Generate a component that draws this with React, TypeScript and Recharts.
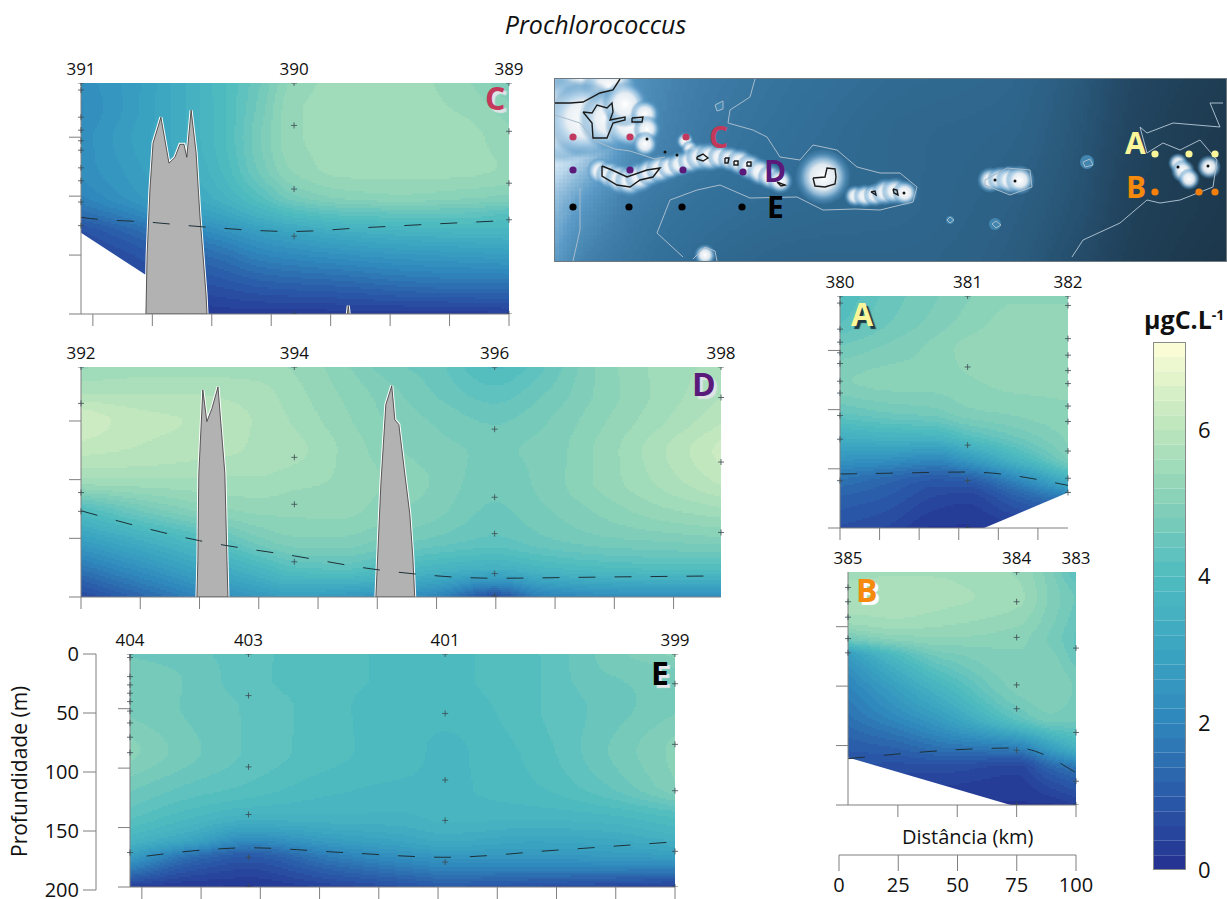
import React from 'react'
import { ComposedChart, Area, Bar, Line, Scatter, XAxis, YAxis } from 'recharts'

const FONT = '"Open Sans", sans-serif'
const AXIS = '#7f7f7f'
const TOP_DEPTH = 4
const BOTTOM_DEPTH = 200

// colour bar, 0.2 units a band
const barStops: [number, string][] = [
    [0, '#24308f'],
    [1, '#2a5aa8'],
    [2, '#2f86bb'],
    [3, '#3ba5c2'],
    [4, '#4fbcc0'],
    [5, '#85d0b8'],
    [6, '#bbe5bc'],
    [7.2, '#fffed6'],
]
const barBands = Array.from({ length: 36 }, (_, i) => 'b' + i)
const barTicks = [0, 2, 4, 6]
const outerDepthTicks = [0, 50, 100, 150, 200]
const outerDistTicks = [0, 25, 50, 75, 100]
const depthTicks = [50, 100, 150, 200]

// section C
const cDist = [0, 20, 40, 60, 75, 90, 110, 135, 160, 180]
const cDepth = [4, 25, 50, 75, 100, 115, 130, 150, 175, 200]
const cValues = [
    [2.2, 2.6, 3.2, 3.9, 4.5, 5.2, 5.4, 5.4, 5.2, 4.7],
    [2.1, 2.6, 3.2, 3.9, 4.6, 5.3, 5.4, 5.4, 5.3, 5.0],
    [2.2, 2.7, 3.2, 3.9, 4.7, 5.3, 5.4, 5.4, 5.4, 5.2],
    [2.2, 2.6, 3.1, 3.8, 4.6, 5.2, 5.4, 5.4, 5.4, 5.3],
    [1.9, 2.4, 2.9, 3.5, 4.1, 4.7, 5.0, 5.1, 5.0, 4.9],
    [1.4, 1.9, 2.5, 3.0, 3.5, 3.9, 4.2, 4.3, 4.3, 4.1],
    [0.7, 1.2, 1.8, 2.3, 2.7, 3.0, 3.3, 3.5, 3.6, 3.6],
    [0.4, 0.7, 1.1, 1.5, 1.9, 2.1, 2.3, 2.5, 2.6, 2.7],
    [0.2, 0.4, 0.6, 0.8, 1.0, 1.1, 1.2, 1.4, 1.5, 1.5],
    [0.1, 0.1, 0.1, 0.2, 0.2, 0.2, 0.2, 0.2, 0.2, 0.3],
]
const cTicks = [5, 30, 55, 80, 105, 130, 155, 180]
const cStationDist = [0, 89.6, 180]
const cStationNames = ['391', '390', '389']
const cSamples = [
    [4, 10, 33, 44, 53, 61, 76, 87, 105, 125],
    [4, 40, 94, 134, 200],
    [4, 45, 89, 120, 200],
]
const cMld = [[0, 118], [4, 119], [28, 122], [51, 126], [89, 130], [117, 127], [145, 124], [180, 120.6]]
const cBottom = [[0, 131], [27.3, 167]]
const cRidges = [
    [[27.3, 200], [27.8, 150], [29, 94], [30.3, 55], [33.6, 33], [37, 72], [39.5, 67], [41.6, 56], [43.3, 56], [44.5, 67], [46.3, 27], [48.4, 63], [50, 116], [51.3, 150], [52.6, 184], [53, 200]],
    [[112, 200], [112.4, 193], [112.8, 200]],
]

// section D
const dDist = [0, 25, 50, 75, 90, 110, 130, 150, 174.5, 195, 220, 245, 270]
const dDepth = [4, 25, 50, 75, 100, 125, 150, 175, 200]
const dValues = [
    [5.3, 5.4, 5.4, 5.4, 5.3, 5.0, 4.6, 4.4, 3.9, 4.3, 5.0, 5.4, 5.6],
    [5.7, 5.7, 5.7, 5.6, 5.4, 5.1, 4.8, 4.5, 4.2, 4.5, 5.0, 5.4, 5.7],
    [6.3, 6.0, 5.9, 5.7, 5.5, 5.2, 4.9, 4.7, 4.5, 4.7, 5.1, 5.5, 5.9],
    [6.0, 5.9, 5.8, 5.7, 5.6, 5.3, 5.0, 4.8, 4.7, 4.8, 5.2, 5.7, 6.2],
    [5.5, 5.5, 5.5, 5.5, 5.4, 5.3, 5.1, 4.9, 4.6, 4.8, 5.2, 5.6, 6.0],
    [4.0, 4.6, 5.0, 5.2, 5.2, 5.2, 5.0, 4.8, 4.5, 4.7, 5.0, 5.3, 5.5],
    [2.8, 3.4, 4.0, 4.7, 4.9, 4.9, 4.7, 4.5, 4.3, 4.5, 4.7, 4.8, 4.9],
    [1.6, 2.3, 3.0, 3.7, 4.1, 4.2, 3.9, 3.6, 3.4, 3.7, 3.9, 4.0, 4.0],
    [0.5, 1.2, 1.9, 2.5, 2.7, 2.5, 2.3, 1.9, 0.7, 1.8, 2.1, 2.2, 2.2],
]
const dTicks = [0, 25, 50, 75, 100, 125, 150, 175, 200, 225, 250]
const dStationDist = [0, 90, 174.5, 270]
const dStationNames = ['392', '394', '396', '398']
const dSamples = [
    [4, 35, 111, 127],
    [4, 81, 121, 170],
    [4, 57, 115, 146, 180, 199],
    [4, 30, 85, 145],
]
const dMld = [[0, 126.5], [50, 152], [90, 165], [126, 177], [174.5, 184], [220, 183], [270, 182]]
const dRidges = [
    [[48.9, 200], [49.3, 169], [49.7, 95], [51.4, 23.5], [53.1, 50.5], [55.2, 39.5], [57.8, 21], [60.7, 95], [61.6, 169], [62, 200]],
    [[124.4, 200], [126.5, 104], [128.6, 36], [131.1, 20], [132.4, 49], [134.1, 53], [136.6, 95], [138.7, 129], [140, 166], [140.8, 200]],
]

// section E
const eDist = [0, 25, 50, 85, 115, 133, 170, 200, 230]
const eDepth = [4, 25, 50, 85, 115, 140, 160, 175, 200]
const eValues = [
    [4.5, 4.4, 4.2, 4.0, 3.9, 3.9, 4.1, 4.6, 5.0],
    [4.7, 4.5, 4.2, 4.0, 3.9, 3.9, 4.1, 4.5, 4.6],
    [4.7, 4.5, 4.3, 4.0, 3.8, 3.8, 4.1, 4.4, 4.7],
    [5.0, 4.6, 4.3, 4.0, 3.8, 3.7, 4.0, 4.5, 5.0],
    [4.6, 4.3, 4.1, 3.8, 3.7, 3.7, 3.9, 4.3, 4.9],
    [4.2, 3.8, 3.5, 3.5, 3.5, 3.6, 3.6, 3.7, 4.0],
    [3.6, 3.0, 2.2, 2.7, 3.0, 3.2, 3.0, 3.1, 3.4],
    [2.6, 1.4, 0.9, 1.7, 2.2, 2.4, 2.4, 2.5, 2.6],
    [0.3, 0.1, 0.1, 0.4, 0.7, 0.9, 0.7, 0.5, 0.3],
]
const eTicks = [5, 30, 55, 80, 105, 130, 155, 180, 205, 230]
const eStationDist = [0, 50, 133, 230]
const eStationNames = ['404', '403', '401', '399']
const eSamples = [
    [4, 7, 23, 30, 37, 44, 52, 62, 74, 87, 171],
    [4, 39, 99, 139, 175, 200],
    [4, 54, 110, 144, 179],
    [4, 29, 80, 119, 170, 200],
]
const eMld = [[7, 174], [30, 169], [50, 167], [90, 171], [133, 175], [180, 169], [230, 162]]

// section A
const aDist = [0, 30, 60, 80, 110, 144]
const aDepth = [4, 25, 50, 75, 100, 120, 140, 160, 175, 200]
const aValues = [
    [3.9, 4.4, 4.7, 4.9, 5.1, 5.1],
    [4.1, 4.5, 4.8, 5.0, 5.2, 5.2],
    [4.6, 4.8, 5.0, 5.2, 5.3, 5.3],
    [4.9, 5.0, 5.0, 5.1, 5.2, 5.2],
    [4.4, 4.6, 4.7, 4.9, 5.0, 5.1],
    [3.5, 3.7, 3.8, 4.2, 4.6, 5.0],
    [2.5, 2.4, 2.2, 2.7, 3.7, 4.8],
    [1.5, 1.2, 0.9, 1.0, 1.9, 3.3],
    [1.1, 0.9, 0.5, 0.4, 1.0, 1.7],
    [0.7, 0.5, 0.1, 0.1, 0.2, 0.3],
]
const aTicks = [0, 25, 50, 75, 100, 125]
const aStationDist = [0, 80.6, 144]
const aStationNames = ['380', '381', '382']
const aSamples = [
    [4, 10, 32, 43, 52, 61, 76, 86, 105, 125, 160],
    [4, 64, 130, 160, 200],
    [4, 12, 40, 54, 67, 78, 97, 110, 135, 158, 170],
]
const aMld = [[0, 154.4], [40, 153.5], [80.6, 152.7], [144, 164]]
const aBottom = [[91, 200], [144, 170]]

// section B
const bDist = [0, 20, 40, 71, 85, 96]
const bDepth = [4, 25, 45, 60, 75, 100, 125, 150, 170, 200]
const bValues = [
    [5.4, 5.5, 5.5, 5.3, 4.8, 4.1],
    [5.7, 5.7, 5.6, 5.4, 4.9, 4.5],
    [5.4, 5.5, 5.4, 5.2, 4.8, 4.4],
    [4.6, 5.0, 5.1, 5.0, 4.7, 4.3],
    [2.6, 3.8, 4.6, 4.9, 4.8, 4.4],
    [1.9, 2.8, 3.7, 4.8, 4.9, 4.7],
    [1.5, 2.1, 2.8, 4.3, 4.7, 4.6],
    [1.0, 1.2, 1.6, 2.0, 2.9, 3.6],
    [0.7, 0.6, 0.6, 0.4, 1.1, 1.5],
    [0.4, 0.2, 0.1, 0.1, 0.1, 0.3],
]
const bTicks = [21, 46, 71, 96]
const bStationDist = [0, 71, 96]
const bStationNames = ['385', '384', '383']
const bSamples = [
    [17, 29, 42, 60, 72],
    [4, 29, 59, 99, 119, 154, 200],
    [68, 139, 180, 200],
]
const bMld = [[0, 161], [71, 152], [96, 173]]
const bBottom = [[0, 160], [68.5, 200]]

// map
const mapStops: [number, string][] = [
    [0, '#1b3346'],
    [1, '#26506f'],
    [2, '#33719b'],
    [3, '#5b9ac6'],
    [4, '#bcd8ec'],
    [5, '#ffffff'],
]
const mapX = [0, 30, 80, 150, 250, 350, 450, 520, 580, 671]
const mapY = [0, 60, 120, 182]
const mapValues = [
    [4.6, 4.2, 2.8, 2.3, 2.0, 1.8, 1.7, 1.3, 0.7, 0.3],
    [4.6, 4.0, 2.7, 2.2, 1.9, 1.7, 1.6, 1.2, 0.6, 0.2],
    [3.6, 3.0, 2.3, 2.0, 1.8, 1.7, 1.5, 1.1, 0.5, 0.2],
    [3.0, 2.4, 2.1, 1.8, 1.6, 1.6, 1.4, 0.9, 0.4, 0.1],
]
const shoals = [
    [10, 5, 45], [35, 5, 40], [55, 10, 30], [5, 40, 45], [30, 40, 40], [55, 40, 32], [75, 45, 26], [70, 25, 24],
    [90, 35, 15], [92, 50, 14], [90, 65, 13], [130, 62, 9], [135, 70, 9],
    [45, 92, 14], [55, 96, 15], [65, 100, 16], [75, 102, 16], [85, 98, 16], [95, 93, 15], [105, 90, 15],
    [115, 88, 13], [125, 85, 13], [135, 82, 13], [145, 78, 15], [155, 78, 15], [165, 78, 13], [175, 80, 13],
    [185, 83, 14], [195, 88, 14], [205, 93, 14], [215, 98, 13], [225, 102, 13],
    [268, 98, 28],
    [300, 117, 11], [310, 117, 12], [320, 116, 12], [330, 113, 14], [340, 112, 14], [350, 114, 13],
    [435, 101, 13], [445, 100, 13], [455, 101, 15], [465, 101, 15],
    [623, 84, 10], [628, 92, 12], [634, 100, 11], [654, 88, 12], [150, 176, 11],
]
const pools = [[532, 83, 7], [440, 145, 6], [395, 141, 4], [164, 27, 4]]
const islands = [
    [[28, 33], [37, 34], [42, 26], [52, 29], [57, 24], [58, 33], [55, 41], [70, 38], [70, 41], [58, 44], [52, 59], [38, 59], [37, 44], [28, 33]],
    [[77, 39], [88, 38], [87, 43], [77, 43], [77, 39]],
    [[0, 24], [15, 24], [28, 23], [45, 14], [58, 11], [65, 0]],
    [[47, 87], [57, 91], [72, 98], [92, 91], [105, 89], [98, 98], [85, 101], [75, 108], [62, 106], [47, 97], [47, 87]],
    [[142, 78], [148, 75], [153, 79], [148, 82], [142, 80], [142, 78]],
    [[170, 79], [174, 79], [173, 84], [170, 84], [170, 79]],
    [[179, 82], [183, 82], [183, 86], [179, 86], [179, 82]],
    [[192, 83], [196, 83], [196, 87], [192, 87], [192, 83]],
    [[222, 103], [230, 106], [226, 107], [222, 103]],
    [[258, 99], [270, 98], [272, 89], [280, 90], [281, 98], [280, 105], [270, 108], [260, 107], [258, 99]],
    [[316, 113], [320, 112], [321, 116], [316, 113]],
    [[338, 110], [342, 111], [343, 116], [339, 114], [338, 110]],
]
const isobaths = [
    [[200, 0], [195, 18], [175, 31], [173, 44], [198, 51], [212, 58], [225, 78], [245, 81], [258, 66], [282, 71], [302, 88], [325, 94], [345, 94], [362, 108], [358, 123], [325, 131], [300, 130], [268, 131], [242, 118], [195, 119], [165, 106], [142, 111], [115, 121], [102, 154], [128, 178]],
    [[25, 109], [25, 151], [18, 182]],
    [[430, 101], [452, 89], [475, 91], [477, 108], [455, 116], [430, 106], [430, 101]],
    [[517, 178], [528, 161], [565, 144], [592, 121], [605, 124], [625, 121], [658, 108], [662, 81], [645, 61], [625, 71], [608, 64], [592, 74], [585, 48], [592, 54], [618, 44], [665, 48], [655, 24], [668, 24]],
    [[528, 83], [535, 80], [538, 86], [530, 88], [528, 83]],
    [[437, 145], [441, 142], [446, 146], [441, 149], [437, 145]],
    [[392, 141], [395, 138], [399, 141], [395, 144], [392, 141]],
    [[160, 26], [168, 22], [168, 30], [162, 32], [160, 26]],
    [[0, 36], [25, 44], [40, 62], [60, 70], [75, 72], [100, 80], [110, 78]],
    [[138, 180], [150, 168], [160, 172], [162, 182]],
]
const islandDots = [[349, 114], [440, 101], [460, 102], [623, 88], [653, 87], [110, 73], [122, 76], [92, 60]]
const stationsC = [[18, 58], [75, 58], [131, 58]]
const stationsD = [[18, 91], [75, 91], [128, 91], [188, 93]]
const stationsE = [[18, 128], [74, 128], [127, 128], [187, 128]]
const stationsA = [[600, 75], [634, 75], [660, 75]]
const stationsB = [[600, 113], [644, 113], [660, 113]]

const toPoints = (rows: number[][]) => rows.map(([x, y]) => ({ x, y }))

function rampColor(stops: [number, string][], v: number) {
    let i = 0
    while (i < stops.length - 2 && v > stops[i + 1][0]) i++
    const [v0, c0] = stops[i]
    const [v1, c1] = stops[i + 1]
    const t = Math.max(0, Math.min(1, (v - v0) / (v1 - v0)))
    const ch = (c: string, k: number) => parseInt(c.slice(1 + k * 2, 3 + k * 2), 16)
    const mix = [0, 1, 2].map((k) => Math.round(ch(c0, k) + (ch(c1, k) - ch(c0, k)) * t))
    return `rgb(${mix.join(',')})`
}

// the small offset keeps values read as whole band edges from flickering between bands
const bandColor = (v: number) => {
    const i = Math.max(0, Math.min(35, Math.floor((v + 0.07) / 0.2)))
    return rampColor(barStops, (i + 0.5) * 0.2)
}
const mapColor = (v: number) => rampColor(mapStops, Math.round(v * 20) / 20)

// smooth read-across between neighbouring read values when painting a cell
function smooth(xs: number[], ys: number[], x: number) {
    const n = xs.length
    let i = 0
    while (i < n - 2 && x > xs[i + 1]) i++
    const h = xs[i + 1] - xs[i]
    const t = (x - xs[i]) / h
    const d = (k: number) => (ys[k + 1] - ys[k]) / (xs[k + 1] - xs[k])
    const m = (k: number) => {
        if (k === 0) return d(0)
        if (k === n - 1) return d(n - 2)
        const a = d(k - 1)
        const b = d(k)
        return a * b <= 0 ? 0 : (2 * a * b) / (a + b)
    }
    const t2 = t * t
    const t3 = t2 * t
    return (2 * t3 - 3 * t2 + 1) * ys[i] + (t3 - 2 * t2 + t) * h * m(i) + (-2 * t3 + 3 * t2) * ys[i + 1] + (t3 - t2) * h * m(i + 1)
}

function fieldShape(xs: number[], ys: number[], values: number[][], pxX: number, pxY: number, color: (v: number) => string, step: number) {
    return (props: any) => {
        const { cx, cy, payload } = props
        const { col, row } = payload
        if (col >= xs.length - 1 || row >= ys.length - 1) return <g />
        const x0 = Math.round(cx)
        const y0 = Math.round(cy)
        const x1 = Math.round(cx + (xs[col + 1] - xs[col]) * pxX)
        const y1 = Math.round(cy + (ys[row + 1] - ys[row]) * pxY)
        const paths: Record<string, string> = {}
        for (let py = y0; py < y1; py += step) {
            const yv = ys[row] + (py + step / 2 - cy) / pxY
            const across = xs.map((_, c) => smooth(ys, values.map((r) => r[c]), yv))
            for (let px = x0; px < x1; px += step) {
                const xv = xs[col] + (px + step / 2 - cx) / pxX
                const fill = color(smooth(xs, across, xv))
                const w = Math.min(step, x1 - px)
                const h = Math.min(step, y1 - py)
                paths[fill] = (paths[fill] || '') + `M${px} ${py}h${w}v${h}h${-w}z`
            }
        }
        return (
            <g>
                {Object.keys(paths).map((fill) => (
                    <path key={fill} d={paths[fill]} fill={fill} shapeRendering='crispEdges' />
                ))}
            </g>
        )
    }
}

function fieldPoints(xs: number[], ys: number[]) {
    return ys.flatMap((y, row) => xs.map((x, col) => ({ x, y, col, row })))
}

const Cross = (props: any) => {
    const { cx, cy } = props
    return <path d={`M${cx - 3} ${cy}h6M${cx} ${cy - 3}v6`} stroke='#3c4a50' strokeWidth={0.8} fill='none' />
}

const MapDot = (color: string) => (props: any) => <circle cx={props.cx} cy={props.cy} r={3.6} fill={color} />

const TinyDot = (props: any) => <circle cx={props.cx} cy={props.cy} r={1.5} fill='#111' />

const ShoalBlob = (props: any) => (
    <circle cx={props.cx} cy={props.cy} r={props.payload.z} fill='url(#shoal)' />
)

const PoolBlob = (props: any) => (
    <circle cx={props.cx} cy={props.cy} r={props.payload.z} fill='#4286b0' />
)

type PanelProps = {
    left: number
    top: number
    width: number
    height: number
    dist: number[]
    depth: number[]
    values: number[][]
    span: number
    ticks: number[]
    stationDist: number[]
    stationNames: string[]
    samples: number[][]
    mld: number[][]
    bottom?: number[][]
    ridges?: number[][][]
}

function Section({ left, top, width, height, dist, depth, values, span, ticks, stationDist, stationNames, samples, mld, bottom, ridges }: PanelProps) {
    const pxX = width / span
    const pxY = height / (BOTTOM_DEPTH - TOP_DEPTH)
    const names: Record<number, string> = {}
    stationDist.forEach((d, i) => (names[d] = stationNames[i]))
    const crosses = stationDist.flatMap((x, i) => samples[i].map((y) => ({ x, y })))
    const ridgeList = ridges || []
    // one table for the chart: every line or area owns its own key, the rest of its rows stay empty
    const rows: any[] = [
        ...mld.map(([x, y]) => ({ x, mld: y })),
        ...(bottom || []).map(([x, y]) => ({ x, floor: [y, BOTTOM_DEPTH] })),
        ...ridgeList.flatMap((ridge, i) => ridge.map(([x, y]) => ({ x, ['ridge' + i]: [y, BOTTOM_DEPTH] }))),
    ]
    return (
        <div style={{ position: 'absolute', left: left - 30, top: top - 30 }}>
            <ComposedChart data={rows} width={width + 60} height={height + 50} margin={{ top: 0, right: 30, bottom: 0, left: 0 }}>
                <XAxis
                    xAxisId='top'
                    orientation='top'
                    dataKey='x'
                    type='number'
                    domain={[0, span]}
                    ticks={stationDist}
                    interval={0}
                    height={30}
                    axisLine={false}
                    tickLine={false}
                    tickMargin={2}
                    tick={{ fontSize: 17, fontFamily: FONT, fill: '#111' }}
                    tickFormatter={(v) => names[v]}
                />
                <XAxis
                    dataKey='x'
                    type='number'
                    domain={[0, span]}
                    ticks={ticks}
                    interval={0}
                    height={20}
                    stroke={AXIS}
                    tickSize={12}
                    tickFormatter={() => ''}
                />
                <YAxis
                    dataKey='y'
                    type='number'
                    reversed
                    allowDataOverflow
                    domain={[TOP_DEPTH, BOTTOM_DEPTH]}
                    ticks={depthTicks}
                    interval={0}
                    width={30}
                    stroke={AXIS}
                    tickSize={12}
                    tickFormatter={() => ''}
                />
                <Scatter
                    data={fieldPoints(dist, depth)}
                    shape={fieldShape(dist, depth, values, pxX, pxY, bandColor, 2)}
                    isAnimationActive={false}
                    zIndex={50}
                />
                {bottom && (
                    <Area
                        dataKey='floor'
                        type='linear'
                        connectNulls
                        fill='#ffffff'
                        fillOpacity={1}
                        stroke='none'
                        dot={false}
                        activeDot={false}
                        isAnimationActive={false}
                    />
                )}
                {ridgeList.map((_, i) => (
                    <Area
                        key={'halo' + i}
                        dataKey={'ridge' + i}
                        type='linear'
                        connectNulls
                        fill='none'
                        stroke='#ffffff'
                        strokeWidth={3}
                        dot={false}
                        activeDot={false}
                        isAnimationActive={false}
                    />
                ))}
                {ridgeList.map((_, i) => (
                    <Area
                        key={'ridge' + i}
                        dataKey={'ridge' + i}
                        type='linear'
                        connectNulls
                        fill='#b2b2b2'
                        fillOpacity={1}
                        stroke='#333'
                        strokeWidth={0.8}
                        dot={false}
                        activeDot={false}
                        isAnimationActive={false}
                    />
                ))}
                <Line
                    dataKey='mld'
                    type='monotone'
                    connectNulls
                    stroke='#1d3038'
                    strokeWidth={1}
                    strokeDasharray='17 19'
                    dot={false}
                    activeDot={false}
                    isAnimationActive={false}
                />
                <Scatter data={crosses} shape={Cross} isAnimationActive={false} />
            </ComposedChart>
        </div>
    )
}

function MapPanel() {
    const rows: any[] = [
        ...isobaths.flatMap((line, i) => line.map(([x, y]) => ({ x, ['iso' + i]: y }))),
        ...islands.flatMap((line, i) => line.map(([x, y]) => ({ x, ['isl' + i]: y }))),
    ]
    return (
        <div style={{ position: 'absolute', left: 555, top: 79, width: 671, height: 182, boxShadow: '0 0 0 1px #6f7a80' }}>
            <ComposedChart data={rows} width={671} height={182} margin={{ top: 0, right: 0, bottom: 0, left: 0 }}>
                <defs>
                    <radialGradient id='shoal'>
                        <stop offset='0%' stopColor='#ffffff' stopOpacity={1} />
                        <stop offset='45%' stopColor='#e9eff4' stopOpacity={0.95} />
                        <stop offset='65%' stopColor='#a6cbe6' stopOpacity={0.8} />
                        <stop offset='85%' stopColor='#5b9ac6' stopOpacity={0.45} />
                        <stop offset='100%' stopColor='#5b9ac6' stopOpacity={0} />
                    </radialGradient>
                </defs>
                <XAxis dataKey='x' type='number' domain={[0, 671]} hide />
                <YAxis dataKey='y' type='number' reversed domain={[0, 182]} hide />
                <Scatter
                    data={fieldPoints(mapX, mapY)}
                    shape={fieldShape(mapX, mapY, mapValues, 1, 1, mapColor, 4)}
                    isAnimationActive={false}
                    zIndex={50}
                />
                <Scatter
                    data={shoals.map(([x, y, z]) => ({ x, y, z }))}
                    shape={ShoalBlob}
                    isAnimationActive={false}
                    zIndex={60}
                />
                <Scatter
                    data={pools.map(([x, y, z]) => ({ x, y, z }))}
                    shape={PoolBlob}
                    isAnimationActive={false}
                    zIndex={60}
                />
                {isobaths.map((_, i) => (
                    <Line
                        key={'iso' + i}
                        dataKey={'iso' + i}
                        type='linear'
                        connectNulls
                        stroke='#a8bccb'
                        strokeWidth={1}
                        dot={false}
                        activeDot={false}
                        isAnimationActive={false}
                    />
                ))}
                {islands.map((_, i) => (
                    <Line
                        key={'isl' + i}
                        dataKey={'isl' + i}
                        type='linear'
                        connectNulls
                        stroke='#1a1a1a'
                        strokeWidth={1.4}
                        dot={false}
                        activeDot={false}
                        isAnimationActive={false}
                    />
                ))}
                <Scatter data={toPoints(islandDots)} shape={TinyDot} isAnimationActive={false} />
                <Scatter data={toPoints(stationsC)} shape={MapDot('#c1395e')} isAnimationActive={false} />
                <Scatter data={toPoints(stationsD)} shape={MapDot('#5a1a7a')} isAnimationActive={false} />
                <Scatter data={toPoints(stationsE)} shape={MapDot('#000000')} isAnimationActive={false} />
                <Scatter data={toPoints(stationsA)} shape={MapDot('#fbf69a')} isAnimationActive={false} />
                <Scatter data={toPoints(stationsB)} shape={MapDot('#f57f0a')} isAnimationActive={false} />
            </ComposedChart>
        </div>
    )
}

function ColorBar() {
    const row: Record<string, any> = { name: 'bar' }
    barBands.forEach((b) => (row[b] = 0.2))
    return (
        <div style={{ position: 'absolute', left: 1153, top: 332 }}>
            <ComposedChart width={74} height={553} data={[row]} margin={{ top: 10, right: 0, bottom: 15, left: 0 }} barCategoryGap={0}>
                <XAxis dataKey='name' hide />
                <YAxis
                    orientation='right'
                    type='number'
                    domain={[0, 7.2]}
                    ticks={barTicks}
                    interval={0}
                    width={41}
                    axisLine={false}
                    tickLine={false}
                    tickMargin={6}
                    tick={{ fontSize: 22, fontFamily: FONT, fill: '#111' }}
                />
                {barBands.map((b, i) => (
                    <Bar key={b} dataKey={b} stackId='bar' fill={bandColor((i + 0.5) * 0.2)} isAnimationActive={false} />
                ))}
            </ComposedChart>
            <div style={{ position: 'absolute', left: 0, top: 10, width: 33, height: 528, boxShadow: 'inset 0 0 0 1px #8a8a8a' }} />
        </div>
    )
}

function OuterDepthAxis() {
    return (
        <div style={{ position: 'absolute', left: 0, top: 640 }}>
            <ComposedChart data={outerDepthTicks.map((y) => ({ x: 0, y }))} width={100} height={259} margin={{ top: 14, right: 4, bottom: 9, left: 0 }}>
                <YAxis
                    dataKey='y'
                    type='number'
                    reversed
                    domain={[0, 200]}
                    ticks={outerDepthTicks}
                    interval={0}
                    width={96}
                    stroke={AXIS}
                    tickSize={13}
                    tickMargin={4}
                    tick={{ fontSize: 20, fontFamily: FONT, fill: '#111' }}
                    label={{ value: 'Profundidade (m)', angle: -90, position: 'insideLeft', offset: 20, dy: 85, style: { fontSize: 21, fontFamily: FONT, fill: '#111' } }}
                />
                <XAxis dataKey='x' type='number' domain={[0, 1]} hide />
                <Line dataKey='y' stroke='none' dot={false} activeDot={false} isAnimationActive={false} />
            </ComposedChart>
        </div>
    )
}

function OuterDistAxis() {
    return (
        <div style={{ position: 'absolute', left: 819, top: 850 }}>
            <ComposedChart data={outerDistTicks.map((x) => ({ x, y: 0 }))} width={280} height={49} margin={{ top: 4, right: 23, bottom: 0, left: 20 }}>
                <XAxis
                    dataKey='x'
                    type='number'
                    orientation='bottom'
                    domain={[0, 100]}
                    ticks={outerDistTicks}
                    interval={0}
                    height={44}
                    stroke={AXIS}
                    tickSize={16}
                    tickMargin={7}
                    tick={{ fontSize: 20, fontFamily: FONT, fill: '#111' }}
                />
                <YAxis dataKey='y' type='number' domain={[0, 1]} hide />
                <Line dataKey='y' stroke='none' dot={false} activeDot={false} isAnimationActive={false} />
            </ComposedChart>
        </div>
    )
}

const Letter = ({ x, y, color, shadow, size = 32, children }: any) => (
    <div
        style={{
            position: 'absolute',
            left: x,
            top: y,
            fontFamily: FONT,
            fontWeight: 700,
            fontSize: size,
            lineHeight: 1,
            color,
            textShadow: `3px 3px 1px ${shadow}`,
        }}
    >
        {children}
    </div>
)

export default function App() {
    return (
        <div style={{ position: 'absolute', left: 0, top: 0, width: 1227, height: 899, overflow: 'hidden', background: '#fff', fontFamily: FONT }}>
            <div style={{ position: 'absolute', left: 0, width: 1191, top: 7, textAlign: 'center', fontStyle: 'italic', fontSize: 25, color: '#111' }}>
                Prochlorococcus
            </div>
            <MapPanel />
            <Section left={81} top={83} width={428} height={231} dist={cDist} depth={cDepth} values={cValues} span={180} ticks={cTicks} stationDist={cStationDist} stationNames={cStationNames} samples={cSamples} mld={cMld} bottom={cBottom} ridges={cRidges} />
            <Section left={81} top={367} width={640} height={230} dist={dDist} depth={dDepth} values={dValues} span={270} ticks={dTicks} stationDist={dStationDist} stationNames={dStationNames} samples={dSamples} mld={dMld} ridges={dRidges} />
            <Section left={130} top={654} width={545} height={233} dist={eDist} depth={eDepth} values={eValues} span={230} ticks={eTicks} stationDist={eStationDist} stationNames={eStationNames} samples={eSamples} mld={eMld} />
            <Section left={840} top={296} width={228} height={232} dist={aDist} depth={aDepth} values={aValues} span={144} ticks={aTicks} stationDist={aStationDist} stationNames={aStationNames} samples={aSamples} mld={aMld} bottom={aBottom} />
            <Section left={848} top={572} width={228} height={233} dist={bDist} depth={bDepth} values={bValues} span={96} ticks={bTicks} stationDist={bStationDist} stationNames={bStationNames} samples={bSamples} mld={bMld} bottom={bBottom} />
            <OuterDepthAxis />
            <OuterDistAxis />
            <ColorBar />
            <Letter x={485} y={82} color='#c4395a' shadow='#dfe3e6'>C</Letter>
            <Letter x={692} y={368} color='#5a1a7a' shadow='#dfe3e6'>D</Letter>
            <Letter x={651} y={657} color='#000000' shadow='#e6e8ea'>E</Letter>
            <Letter x={851} y={298} color='#fbf69a' shadow='#1e3a44'>A</Letter>
            <Letter x={856} y={574} color='#f58a0c' shadow='#ffffff'>B</Letter>
            <Letter x={709} y={122} color='#c4395a' shadow='transparent' size={30}>C</Letter>
            <Letter x={764} y={156} color='#5a1a7a' shadow='transparent' size={30}>D</Letter>
            <Letter x={767} y={192} color='#000000' shadow='transparent' size={30}>E</Letter>
            <Letter x={1125} y={128} color='#fbf69a' shadow='transparent' size={30}>A</Letter>
            <Letter x={1126} y={172} color='#f58a0c' shadow='transparent' size={30}>B</Letter>
            <div style={{ position: 'absolute', left: 1144, top: 302, fontSize: 25, fontWeight: 700, color: '#111', whiteSpace: 'nowrap' }}>
                µgC.L<sup style={{ fontSize: 14, lineHeight: 0 }}>-1</sup>
            </div>
            <div style={{ position: 'absolute', left: 902, top: 823, fontSize: 20, color: '#111', whiteSpace: 'nowrap' }}>Distância (km)</div>
        </div>
    )
}
